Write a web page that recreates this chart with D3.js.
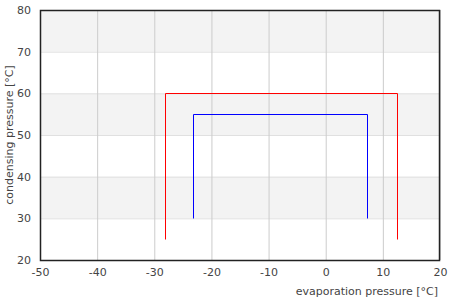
<!DOCTYPE html>
<html>
<head>
<meta charset="utf-8">
<script src="https://cdn.jsdelivr.net/npm/d3@7"></script>
<style>
  body { margin: 0; background: #fff; }
  text { font-family: "DejaVu Sans", sans-serif; }
</style>
</head>
<body>
<div id="chart"></div>
<script>
// axis ticks
var xTicks = [-50, -40, -30, -20, -10, 0, 10, 20];
var yTicks = [20, 30, 40, 50, 60, 70, 80];

// shaded bands [from, to]
var bands = [[30, 40], [50, 60], [70, 80]];

// outer cycle (red) and inner cycle (blue), evaporation / condensing
var outerEvap = [-28.2, -28.2, 12.4, 12.4];
var outerCond = [25, 60, 60, 25];
var innerEvap = [-23.2, -23.2, 7.3, 7.3];
var innerCond = [30, 55, 55, 30];

var width = 450, height = 300;
var margin = { top: 10, right: 10, bottom: 40, left: 40 };

var svg = d3.select("#chart")
  .append("svg")
  .attr("width", width)
  .attr("height", height);

var xScale = d3.scaleLinear()
  .domain([-50, 20])
  .range([margin.left, width - margin.right]);

var yScale = d3.scaleLinear()
  .domain([20, 80])
  .range([height - margin.bottom, margin.top]);

// gray bands
svg.selectAll(".band")
  .data(bands)
  .enter()
  .append("rect")
  .attr("x", xScale(-50))
  .attr("width", xScale(20) - xScale(-50))
  .attr("y", function(d) { return yScale(d[1]); })
  .attr("height", function(d) { return yScale(d[0]) - yScale(d[1]); })
  .style("fill", "#f3f3f3");

// horizontal grid
svg.append("g")
  .attr("transform", "translate(" + margin.left + ",0)")
  .call(d3.axisLeft(yScale).tickValues(yTicks)
    .tickSize(-(width - margin.left - margin.right)).tickFormat(""))
  .call(function(g) { g.select(".domain").remove(); })
  .selectAll("line").attr("stroke", "#e0e0e0");

// vertical grid
svg.append("g")
  .attr("transform", "translate(0," + (height - margin.bottom) + ")")
  .call(d3.axisBottom(xScale).tickValues(xTicks)
    .tickSize(-(height - margin.top - margin.bottom)).tickFormat(""))
  .call(function(g) { g.select(".domain").remove(); })
  .selectAll("line").attr("stroke", "#cccccc");

// the two cycles
var line = d3.line()
  .x(function(d) { return Math.round(xScale(d[0])) + 0.5; })
  .y(function(d) { return Math.round(yScale(d[1])) + 0.5; });

var cycles = [
  { color: "#ff0000", pts: d3.zip(outerEvap, outerCond) },
  { color: "#0000ff", pts: d3.zip(innerEvap, innerCond) }
];

svg.selectAll(".cycle")
  .data(cycles)
  .enter()
  .append("path")
  .attr("class", "cycle")
  .attr("d", function(d) { return line(d.pts); })
  .style("fill", "none")
  .style("stroke", function(d) { return d.color; })
  .style("stroke-width", 1);

// frame
svg.append("rect")
  .attr("x", margin.left + 0.5)
  .attr("y", margin.top + 0.5)
  .attr("width", width - margin.left - margin.right - 1)
  .attr("height", height - margin.top - margin.bottom)
  .attr("fill", "none")
  .attr("stroke", "#222")
  .attr("stroke-width", 1.5);

// y tick labels
svg.append("g")
  .attr("transform", "translate(" + margin.left + ",0)")
  .call(d3.axisLeft(yScale).tickValues(yTicks).tickSize(0).tickPadding(9)
    .tickFormat(function(d) { return String(d); }))
  .call(function(g) { g.select(".domain").remove(); })
  .selectAll("text")
  .style("font-family", "DejaVu Sans")
  .style("font-size", "11px")
  .attr("fill", "#444");

// x tick labels
svg.append("g")
  .attr("transform", "translate(0," + (height - margin.bottom) + ")")
  .call(d3.axisBottom(xScale).tickValues(xTicks).tickSize(0).tickPadding(8)
    .tickFormat(function(d) { return String(d); }))
  .call(function(g) { g.select(".domain").remove(); })
  .selectAll("text")
  .style("font-family", "DejaVu Sans")
  .style("font-size", "11px")
  .attr("fill", "#444");

// axis titles
svg.append("text")
  .attr("text-anchor", "end")
  .attr("x", width - 12)
  .attr("y", height - 5)
  .style("font-size", "11px")
  .attr("fill", "#444")
  .text("evaporation pressure [°C]");

svg.append("text")
  .attr("text-anchor", "middle")
  .attr("transform", "translate(13," + ((margin.top + height - margin.bottom) / 2) + ") rotate(-90)")
  .style("font-size", "11px")
  .attr("fill", "#444")
  .text("condensing pressure [°C]");
</script>
</body>
</html>
